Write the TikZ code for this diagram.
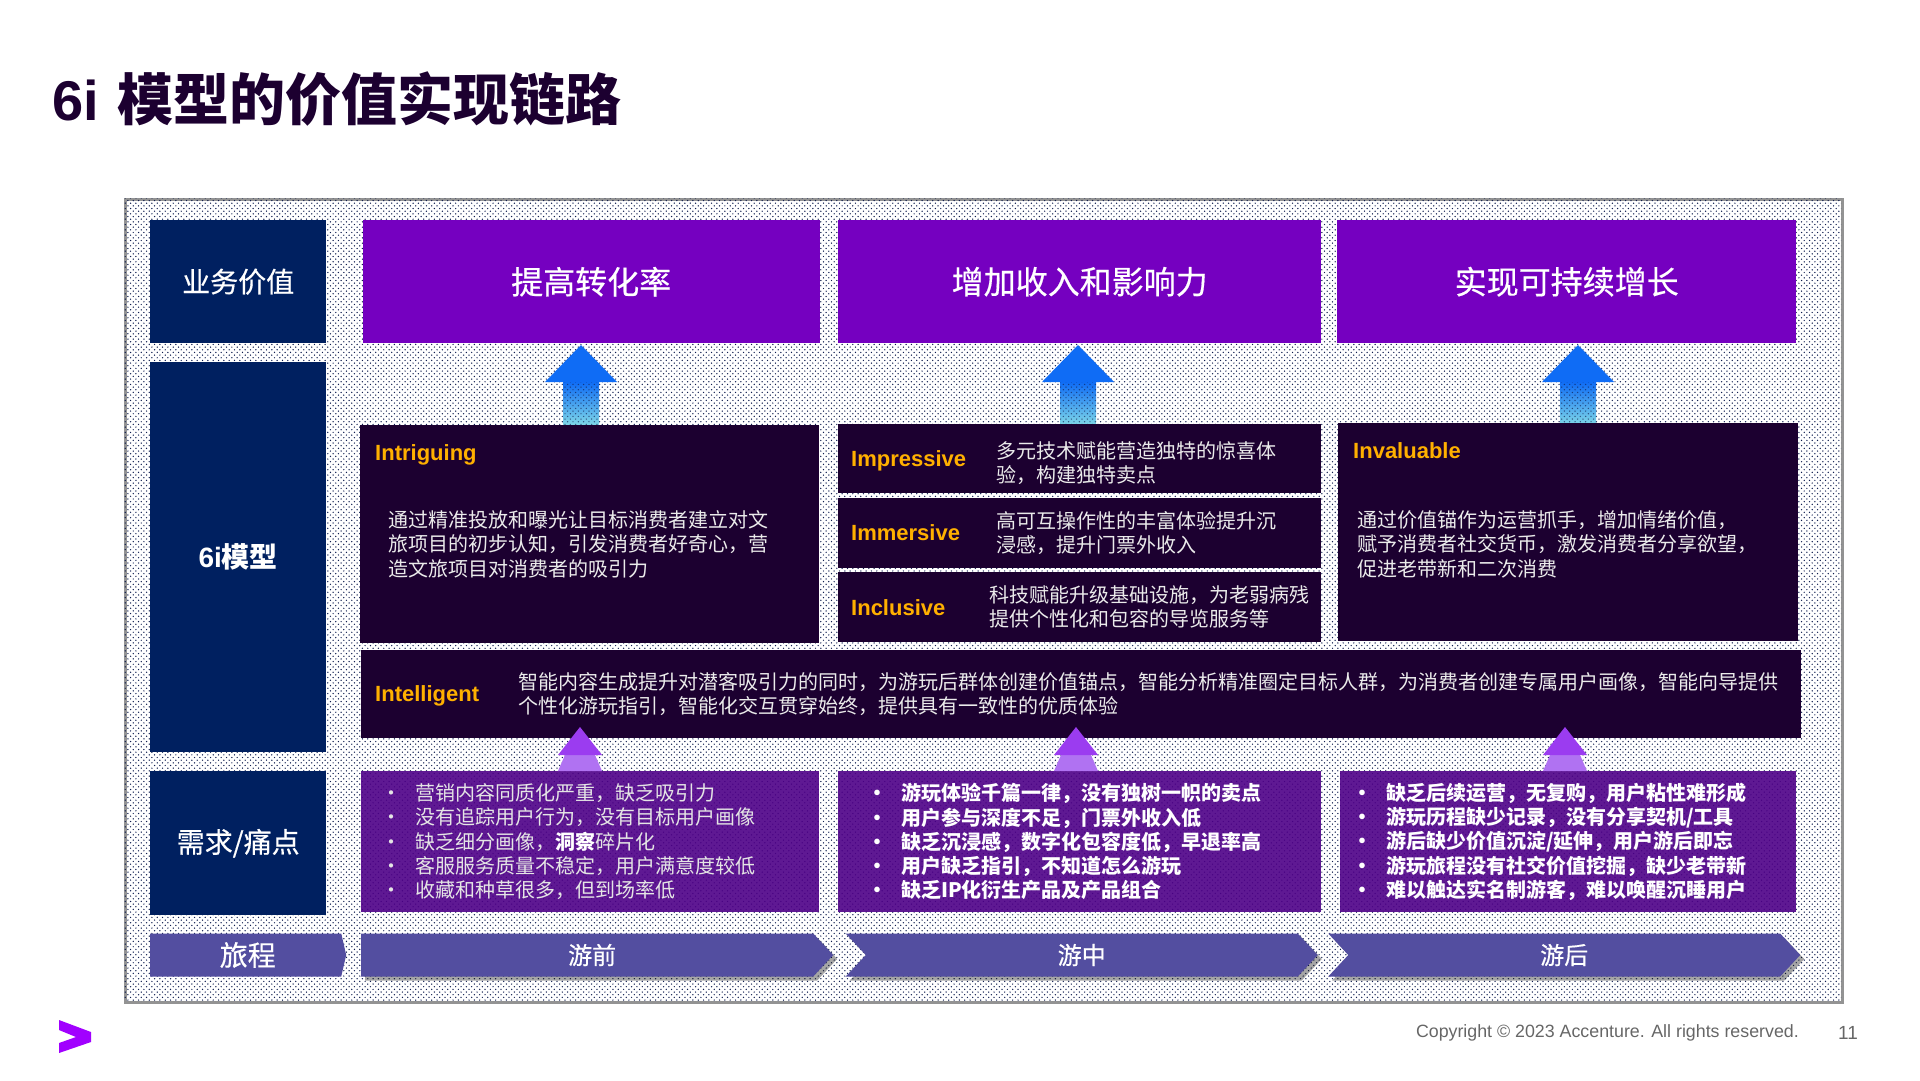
\documentclass[tikz,border=0pt]{standalone}
\usepackage{fontspec}
\setmainfont{Noto Sans CJK SC}
\newfontfamily\latinfont{Liberation Sans}
\newfontfamily\semifont[FakeBold=.5]{Noto Sans CJK SC}
\usetikzlibrary{patterns,shapes.symbols,shadows}

\definecolor{row-navy}{HTML}{002060}
\definecolor{value-purple}{HTML}{7500C0}
\definecolor{model-dark}{HTML}{1C0030}
\definecolor{pain-purple}{HTML}{4E0088}
\definecolor{journey-blue}{HTML}{534EA0}
\definecolor{label-gold}{HTML}{FFB000}
\definecolor{dot-navy}{HTML}{101E50}
\definecolor{flow-blue}{HTML}{0F6CF5}
\definecolor{flow-light}{HTML}{7FD8E8}
\definecolor{head-purple}{HTML}{9B3CF0}
\definecolor{base-purple}{HTML}{B072F2}
\definecolor{logo-purple}{HTML}{A100FF}

\pgfdeclarepatternformonly{bg-dots}{\pgfqpoint{-1pt}{-1pt}}{\pgfqpoint{6.33pt}{6.33pt}}{\pgfqpoint{5.33pt}{5.33pt}}{
    \pgfpathcircle{\pgfqpoint{0pt}{0pt}}{.72pt}
    \pgfpathcircle{\pgfqpoint{2.67pt}{2.67pt}}{.72pt}
    \pgfusepath{fill}
}
\pgfdeclareverticalshading{flow-shade}{100bp}{color(0bp)=(flow-light); color(25bp)=(flow-light); color(52bp)=(flow-blue); color(100bp)=(flow-blue)}

\tikzset{
    solid-box/.style 2 args = {rectangle, anchor=north west, inner sep=0pt, minimum width=#1pt, minimum height=#2pt},
    row-box/.style = {fill=row-navy, text=white, font=\semifont\fontsize{28}{34}\selectfont},
    value-box/.style = {fill=value-purple, text=white, font=\semifont\fontsize{32}{38}\selectfont},
    model-box/.style = {fill=model-dark},
    pain-box/.style = {fill=pain-purple, fill opacity=.9, text opacity=1, text=white!90!black, align=left, font=\fontsize{20}{24.3}\selectfont},
    pain-bold/.style = {text=white, font=\bfseries\fontsize{20}{24.3}\selectfont},
    gold-label/.style = {anchor=west, inner sep=0pt, text=label-gold, font=\latinfont\bfseries\fontsize{22}{26}\selectfont},
    body-text/.style = {anchor=west, inner sep=0pt, align=left, text=white!92!black, font=\fontsize{20}{24.5}\selectfont},
    journey-arrow/.style = {signal, signal to=east, signal pointer angle=94, inner sep=0pt, fill=journey-blue, text=white, anchor=west, minimum height=43pt, font=\semifont\fontsize{24}{28}\selectfont},
    journey-shadow/.style = {drop shadow={shadow xshift=4pt, shadow yshift=-4pt, fill=black, opacity=.35}},
    flow-arrow/.style = {shading=flow-shade},
    shaft-dots/.style = {pattern=bg-dots, pattern color=dot-navy, opacity=.7},
}

\newcommand{\painline}[1]{\makebox[34pt][l]{\textbullet}#1}

\begin{document}
\begin{tikzpicture}[x=1pt, y=-1pt]
\useasboundingbox (0,0) rectangle (1920,1080);
\node[anchor=west, inner sep=0pt, text=model-dark, font=\bfseries\fontsize{56}{64}\selectfont] (page-title) at (52,99) {{\latinfont 6i}\hspace{6pt} 模型的价值实现链路};

\node[solid-box={1717}{803}, draw=gray!85, line width=3pt, fill=white] (frame) at (124,198) {};
\node[solid-box={1717}{803}, pattern=bg-dots, pattern color=dot-navy] (frame-dots) at (124,198) {};

\node[solid-box={176}{123}, row-box] (value-row) at (150,220) {业务价值};
\node[solid-box={176}{390}, row-box, font=\bfseries\fontsize{28}{34}\selectfont] (model-row) at (150,362) {\raisebox{-2pt}{{\latinfont 6i}模型}};
\node[solid-box={176}{144}, row-box] (pain-row) at (150,771) {\raisebox{-5pt}{需求/痛点}};

\node[solid-box={457}{123}, value-box] (value-a) at (362.5,220) {提高转化率};
\node[solid-box={483}{123}, value-box] (value-b) at (838,220) {增加收入和影响力};
\node[solid-box={459}{123}, value-box] (value-c) at (1337,220) {实现可持续增长};

\coordinate (flow-a) at (581,425);
\coordinate (flow-b) at (1078,425);
\coordinate (flow-c) at (1578,425);
\shade[flow-arrow] (flow-a) ++(-18,0) -- ++(0,-43) -- ++(-18,0) -- ++(36,-37) -- ++(36,37) -- ++(-18,0) -- ++(0,43) -- cycle;
\shade[flow-arrow] (flow-b) ++(-18,0) -- ++(0,-43) -- ++(-18,0) -- ++(36,-37) -- ++(36,37) -- ++(-18,0) -- ++(0,43) -- cycle;
\shade[flow-arrow] (flow-c) ++(-18,0) -- ++(0,-43) -- ++(-18,0) -- ++(36,-37) -- ++(36,37) -- ++(-18,0) -- ++(0,43) -- cycle;
\path[shaft-dots] (flow-a) ++(-18,0) rectangle ++(36,-43);
\path[shaft-dots] (flow-b) ++(-18,0) rectangle ++(36,-43);
\path[shaft-dots] (flow-c) ++(-18,0) rectangle ++(36,-43);

\node[solid-box={459}{218}, model-box] (intriguing) at (360,425) {};
\node[gold-label] (intriguing-name) at (375,455) {Intriguing};
\node[body-text] (intriguing-text) at (388,544) {通过精准投放和曝光让目标消费者建立对文\\旅项目的初步认知，引发消费者好奇心，营\\造文旅项目对消费者的吸引力};

\node[solid-box={483}{69}, model-box] (impressive) at (838,424) {};
\node[gold-label] (impressive-name) at (851,461) {Impressive};
\node[body-text] (impressive-text) at (996.5,463) {多元技术赋能营造独特的惊喜体\\验，构建独特卖点};
\node[solid-box={483}{70}, model-box] (immersive) at (838,498) {};
\node[gold-label] (immersive-name) at (851,533) {Immersive};
\node[body-text] (immersive-text) at (996.5,533) {高可互操作性的丰富体验提升沉\\浸感，提升门票外收入};
\node[solid-box={483}{70}, model-box] (inclusive) at (838,572) {};
\node[gold-label] (inclusive-name) at (851,608) {Inclusive};
\node[body-text] (inclusive-text) at (989,607) {科技赋能升级基础设施，为老弱病残\\提供个性化和包容的导览服务等};

\node[solid-box={460}{218}, model-box] (invaluable) at (1338,423) {};
\node[gold-label] (invaluable-name) at (1353,451) {Invaluable};
\node[body-text] (invaluable-text) at (1357,544) {通过价值锚作为运营抓手，增加情绪价值，\\赋予消费者社交货币，激发消费者分享欲望，\\促进老带新和二次消费};

\node[solid-box={1440}{88}, model-box] (intelligent) at (361,650) {};
\node[gold-label] (intelligent-name) at (375,696) {Intelligent};
\node[body-text] (intelligent-text) at (518,694) {智能内容生成提升对潜客吸引力的同时，为游玩后群体创建价值锚点，智能分析精准圈定目标人群，为消费者创建专属用户画像，智能向导提供\\个性化游玩指引，智能化交互贯穿始终，提供具有一致性的优质体验};

\node[solid-box={458}{141}, pain-box, inner xsep=20pt, text width=418pt] (pain-a) at (361,771) {\painline{营销内容同质化严重，缺乏吸引力}\\\painline{没有追踪用户行为，没有目标用户画像}\\\painline{缺乏细分画像，\textbf{\color{white}洞察}碎片化}\\\painline{客服服务质量不稳定，用户满意度较低}\\\painline{收藏和种草很多，但到场率低}};
\node[solid-box={483}{141}, pain-box, pain-bold, inner xsep=29pt, text width=425pt] (pain-b) at (838,771) {\painline{游玩体验千篇一律，没有独树一帜的卖点}\\\painline{用户参与深度不足，门票外收入低}\\\painline{缺乏沉浸感，数字化包容度低，早退率高}\\\painline{用户缺乏指引，不知道怎么游玩}\\\painline{缺乏IP化衍生产品及产品组合}};
\node[solid-box={456}{141}, pain-box, pain-bold, inner xsep=12pt, text width=432pt] (pain-c) at (1340,771) {\painline{缺乏后续运营，无复购，用户粘性难形成}\\\painline{游玩历程缺少记录，没有分享契机/工具}\\\painline{游后缺少价值沉淀/延伸，用户游后即忘}\\\painline{游玩旅程没有社交价值挖掘，缺少老带新}\\\painline{难以触达实名制游客，难以唤醒沉睡用户}};

\coordinate (lift-a) at (580,771);
\coordinate (lift-b) at (1076,771);
\coordinate (lift-c) at (1565,771);
\fill[base-purple] (lift-a) ++(-22,0) -- ++(7,-16) -- ++(30,0) -- ++(7,16) -- cycle;
\fill[head-purple] (lift-a) ++(-22,-16) -- ++(22,-28) -- ++(22,28) -- cycle;
\fill[base-purple] (lift-b) ++(-22,0) -- ++(7,-16) -- ++(30,0) -- ++(7,16) -- cycle;
\fill[head-purple] (lift-b) ++(-22,-16) -- ++(22,-28) -- ++(22,28) -- cycle;
\fill[base-purple] (lift-c) ++(-22,0) -- ++(7,-16) -- ++(30,0) -- ++(7,16) -- cycle;
\fill[head-purple] (lift-c) ++(-22,-16) -- ++(22,-28) -- ++(22,28) -- cycle;

\node[journey-arrow, signal pointer angle=154, minimum width=196pt, font=\semifont\fontsize{28}{34}\selectfont] (journey-label) at (150,955) {\hspace{4pt}旅程};
\node[journey-arrow, journey-shadow, minimum width=472pt] (journey-before) at (361,955) {\hspace{10pt}游前};
\node[journey-arrow, journey-shadow, signal from=west, minimum width=472pt] (journey-during) at (865.5,955) {游中};
\node[journey-arrow, journey-shadow, signal from=west, minimum width=472pt] (journey-after) at (1348,955) {游后};

\fill[logo-purple] (59,1020) -- (91,1032) -- (91,1042) -- (59,1053) -- (59,1043) -- (76,1037) -- (59,1030) -- cycle;
\node[anchor=east, inner sep=0pt, text=black!60, font=\latinfont\fontsize{17.8}{20}\selectfont] (copyright) at (1799,1033) {Copyright © 2023 Accenture. All rights reserved.};
\node[anchor=east, inner sep=0pt, text=black!60, font=\latinfont\fontsize{19}{20}\selectfont] (page-number) at (1858,1033) {11};
\end{tikzpicture}
\end{document}
